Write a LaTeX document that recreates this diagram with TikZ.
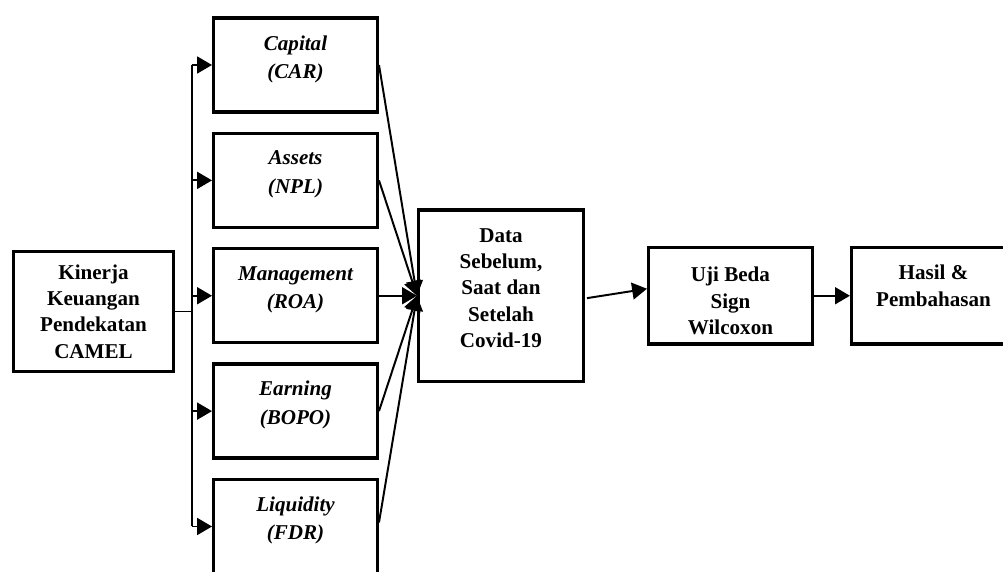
\documentclass[tikz,border=0pt]{standalone}
\usepackage{fontspec}
\setmainfont{Liberation Serif}
\usetikzlibrary{positioning}
\usetikzlibrary{arrows.meta}

\begin{document}
\begin{tikzpicture}[align=center,node distance=4.5mm,
kotak/.style={draw,line width=2.4pt,minimum width=4.09cm,minimum height=2.35cm},
teks/.style={font=\fontsize{15}{18.7}\selectfont\bfseries},
teksM/.style={font=\fontsize{15}{20.2}\selectfont\bfseries\itshape},
garis/.style={line width=1.4pt},
panah/.style={line width=1.4pt,-{Triangle[length=3.7mm,width=4.2mm]}}
]
\useasboundingbox (0,0) rectangle (25.075,-14.3);
\node[kotak,minimum width=4cm,minimum height=3cm](kin) at (2.3375,-7.7875){}; \node[teks] at (kin.center){Kinerja\\Keuangan\\Pendekatan\\CAMEL};
%--
\node[kotak](cap) at (7.3875,-1.625){}; \node[teksM,below=3.6mm of cap.north]{Capital\\(CAR)};
\node[kotak,below = of cap](ast){}; \node[teksM,below=3.6mm of ast.north]{Assets\\(NPL)};
\node[kotak,below = of ast](man){}; \node[teksM,below=3.6mm of man.north]{Management\\(ROA)};
\node[kotak,below = of man](ear){}; \node[teksM,below=3.4mm of ear.north]{Earning\\(BOPO)};
\node[kotak,below = of ear](liq){}; \node[teksM,below=3.4mm of liq.north]{Liquidity\\(FDR)};
%-- garis cabang
\coordinate[right=4.1mm of kin.east](bus);
\draw [garis] (kin.east) -- (bus);
\draw [garis] (bus |- cap.west) -- (bus |- liq.west);
\draw [panah] (bus |- cap.west) -- (cap.west);
\draw [panah] (bus |- ast.west) -- (ast.west);
\draw [panah] (bus |- man.west) -- (man.west);
\draw [panah] (bus |- ear.west) -- (ear.west);
\draw [panah] (bus |- liq.west) -- (liq.west);
%--
\node[kotak,minimum width=4.115cm,minimum height=4.29cm,right=9.5mm of man](data){}; \node[teks] at ([yshift=1.9mm]data.center){Data\\Sebelum,\\Saat dan\\Setelah\\Covid-19};
\draw [panah] (cap.east) -- (data.west);
\draw [panah] (ast.east) -- (data.west);
\draw [panah] (man.east) -- (data.west);
\draw [panah] (ear.east) -- (data.west);
\draw [panah] ([yshift=1mm]liq.east) -- (data.west);
%--
\node[kotak,minimum height=2.415cm,right=1.55cm of data](uji){}; \node[teks] at ([yshift=-1.3mm]uji.center){Uji Beda\\Sign\\Wilcoxon};
\draw [panah] ([yshift=-0.6mm,xshift=0.5mm]data.east) -- ([yshift=1.75mm]uji.west);
%--
\node[kotak,minimum width=7cm,minimum height=2.415cm,right=9mm of uji](has){}; \node[teks,below=3.6mm of has.north west,xshift=2.09cm]{Hasil \&\\Pembahasan};
\draw [panah] (uji) -- (has);
\end{tikzpicture}
\end{document}
